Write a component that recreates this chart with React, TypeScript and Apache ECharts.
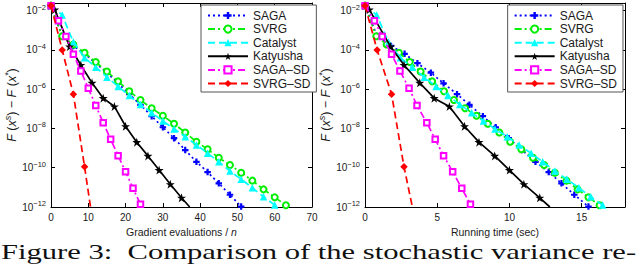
import { useEffect, useRef } from 'react';
import * as echarts from 'echarts';

// ---- data ----
const sagaEvals = [0, 3, 6, 9, 12, 15, 18, 21, 24, 27, 30, 33, 36, 39, 42, 45, 48, 51];
const sagaTime = [0, 0.84, 1.8, 2.74, 3.63, 4.56, 5.44, 6.37, 7.23, 8.16, 9.05, 9.95, 10.87, 11.8, 12.72, 13.6, 14.49, 15.47];
const sagaGap = [1.8e-2, 5.1e-4, 1.6e-4, 6.3e-5, 2.1e-5, 6.9e-6, 2.0e-6, 5.6e-7, 1.6e-7, 4.2e-8, 1.15e-8, 3.2e-9, 7.9e-10, 2.0e-10, 6.0e-11, 1.6e-11, 4.2e-12, 1.05e-12];

const svrgEvals = [0, 3, 6, 9, 12, 15, 18, 21, 24, 27, 30, 33, 36, 39, 42, 45, 48, 51, 54, 57, 60, 63];
const svrgTime = [0, 0.78, 1.5, 2.35, 3.1, 3.85, 4.65, 5.47, 6.16, 6.93, 7.72, 8.5, 9.3, 10.05, 10.82, 11.63, 12.4, 13.14, 13.95, 14.72, 15.47, 16.24];
const svrgGap = [1.8e-2, 5.0e-4, 1.9e-4, 7.2e-5, 2.4e-5, 7.9e-6, 2.5e-6, 7.9e-7, 2.8e-7, 1.07e-7, 4.4e-8, 1.74e-8, 6.2e-9, 2.1e-9, 8.7e-10, 3.2e-10, 1.38e-10, 5.6e-11, 2.2e-11, 7.9e-12, 3.1e-12, 1.23e-12];

const catEvals = [0, 3, 6, 9, 12, 15, 18, 21, 24, 27, 30, 33, 36, 39, 42, 45, 48, 51, 54, 57, 60];
const catTime = [0, 0.81, 1.63, 2.45, 3.27, 4.1, 4.92, 5.74, 6.56, 7.38, 8.2, 9.0, 9.85, 10.67, 11.5, 12.3, 13.15, 13.98, 14.8, 15.63, 16.45];
const catGap = [1.8e-2, 6.0e-3, 2.5e-4, 4.0e-5, 1.32e-5, 4.1e-6, 1.38e-6, 4.7e-7, 1.66e-7, 6.3e-8, 2.4e-8, 9.5e-9, 3.8e-9, 1.45e-9, 5.5e-10, 2.0e-10, 6.8e-11, 2.6e-11, 9.5e-12, 3.3e-12, 1.26e-12];

const katEvals = [0, 1, 5, 8, 11, 14, 17, 20, 23, 26, 29, 32, 35, 37.2];
const katTime = [0, 0.3, 1.77, 2.7, 3.79, 4.79, 5.84, 6.89, 7.89, 8.98, 10.0, 11.0, 12.1, 12.8];
const katGap = [1.8e-2, 1.12e-2, 1.48e-4, 1.7e-5, 2.1e-6, 3.5e-7, 1.32e-7, 1.29e-8, 2.0e-9, 4.0e-10, 7.6e-11, 1.45e-11, 2.95e-12, 1.0e-12];

const sagaSdEvals = [0, 2, 4, 6, 8, 10, 12, 14, 16, 18, 20, 22, 24, 24.4];
const sagaSdTime = [0, 0.65, 1.19, 1.84, 2.42, 3.05, 3.6, 4.28, 4.86, 5.44, 6.07, 6.7, 7.3, 7.38];
const sagaSdGap = [1.8e-2, 3.1e-3, 4.8e-4, 6.0e-5, 8.5e-6, 1.12e-6, 1.48e-7, 1.95e-8, 2.8e-9, 4.1e-10, 6.3e-11, 8.9e-12, 1.38e-12, 1.0e-12];

const svrgSdEvals = [0, 3, 6, 9, 10.6];
const svrgSdTime = [0, 0.84, 1.84, 2.7, 3.28];
const svrgSdGap = [1.8e-2, 1.0e-4, 5.6e-7, 1.12e-10, 1.0e-12];

const names = ['SAGA', 'SVRG', 'Catalyst', 'Katyusha', 'SAGA\u2013SD', 'SVRG\u2013SD'];
const evalTicks = { min: 0, max: 70, interval: 10 };
const timeTicks = { min: 0, max: 18, interval: 5 };
const gapMin = 1e-12;
const gapMax = 0.0245;
const caption = 'Figure 3:  Comparison of the stochastic variance re-';

const PLUS = 'path://M3.3,0H6.7V3.3H10V6.7H6.7V10H3.3V6.7H0V3.3H3.3Z';
const STAR = 'path://M50,0L61.8,35.4L99,35.4L69,57.3L80.9,92.7L50,70.8L19.1,92.7L31,57.3L1,35.4L38.2,35.4Z';

type Style = { color: string; symbol: string; size: number; dash: any; empty?: boolean };
const styles: Style[] = [
  { color: '#0000ff', symbol: PLUS, size: 6.5, dash: [2, 3] },
  { color: '#00ee00', symbol: 'emptyCircle', size: 6, dash: [7, 3, 2, 3], empty: true },
  { color: '#00ffff', symbol: 'triangle', size: 7.5, dash: [7, 4] },
  { color: '#000000', symbol: STAR, size: 9, dash: 'solid' },
  { color: '#ff00ff', symbol: 'emptyRect', size: 5.5, dash: [7, 3, 2, 3], empty: true },
  { color: '#ff0000', symbol: 'diamond', size: 7.5, dash: [7, 4] },
];

function mkSeries(idx: number, xs: number[], ys: number[], grid: number, lastBare: boolean) {
  const s = styles[idx];
  return {
    type: 'line',
    name: names[idx],
    xAxisIndex: grid * 2,
    yAxisIndex: grid * 2,
    data: xs.map((x, i) =>
      lastBare && i === xs.length - 1 ? { value: [x, ys[i]], symbol: 'none' } : [x, ys[i]]
    ),
    symbol: s.symbol,
    symbolSize: s.size,
    showAllSymbol: true,
    clip: true,
    lineStyle: { color: s.color, width: 1.7, type: s.dash },
    itemStyle: { color: s.color, borderColor: s.color, borderWidth: s.empty ? 1.4 : 0 },
    emphasis: { disabled: true },
    z: 2 + idx,
  };
}

const font = 'Liberation Sans';
const txt = '#1a1a1a';

function yLabel(v: number) {
  const e = Math.log10(v);
  const r = Math.round(e);
  if (Math.abs(e - r) > 1e-6) return '';
  return `{b|10}{s|${r < 0 ? '\u2212' + -r : r}}`;
}

const yRich = {
  b: { fontSize: 10, color: txt, fontFamily: font },
  s: { fontSize: 7.5, color: txt, fontFamily: font, padding: [0, 0, 7, 0] },
};

function xAxes(grid: number, ticks: any, name: string) {
  const common = {
    type: 'value',
    gridIndex: grid,
    min: ticks.min,
    max: ticks.max,
    interval: ticks.interval,
    axisLine: { show: true, onZero: false, lineStyle: { color: '#000', width: 1 } },
    axisTick: { show: true, inside: true, length: 4, lineStyle: { color: '#000' } },
    splitLine: { show: false },
  };
  return [
    {
      ...common,
      position: 'bottom',
      name,
      nameLocation: 'middle',
      nameGap: 17,
      nameTextStyle: {
        fontSize: 10.5,
        color: txt,
        fontFamily: font,
        rich: { i: { fontStyle: 'italic', fontSize: 10.5, color: txt, fontFamily: font } },
      },
      axisLabel: {
        fontSize: 10,
        color: txt,
        fontFamily: font,
        margin: 5,
        formatter: (v: number) => (Math.abs(v / ticks.interval - Math.round(v / ticks.interval)) < 1e-9 ? String(v) : ''),
      },
    },
    { ...common, position: 'top', axisLabel: { show: false } },
  ];
}

function yAxes(grid: number, gap: number) {
  const common = {
    type: 'log',
    logBase: 10,
    gridIndex: grid,
    min: gapMin,
    max: gapMax,
    interval: 2,
    axisLine: { show: true, onZero: false, lineStyle: { color: '#000', width: 1 } },
    axisTick: { show: true, inside: true, length: 4, lineStyle: { color: '#000' } },
    splitLine: { show: false },
    minorTick: { show: false },
  };
  return [
    {
      ...common,
      position: 'left',
      name: '{i|F} ({i|x}{sup|s}) \u2212 {i|F} ({i|x}{sup|*})',
      nameLocation: 'middle',
      nameGap: gap,
      nameTextStyle: {
        fontSize: 12.5,
        color: txt,
        fontFamily: font,
        rich: {
          i: { fontStyle: 'italic', fontSize: 12.5, color: txt, fontFamily: font },
          sup: { fontStyle: 'italic', fontSize: 9, color: txt, fontFamily: font, padding: [0, 0, 8, 0] },
        },
      },
      axisLabel: { margin: 5, formatter: yLabel, rich: yRich },
    },
    { ...common, position: 'right', axisLabel: { show: false } },
  ];
}

function legend(pos: any) {
  return {
    ...pos,
    top: 5,
    orient: 'vertical',
    data: names,
    itemWidth: 40,
    itemHeight: 9,
    itemGap: 0.6,
    padding: [4, 6, 2, 6],
    backgroundColor: '#fff',
    borderColor: '#555',
    borderWidth: 1,
    borderRadius: 0,
    selectedMode: false,
    textStyle: { fontSize: 12, lineHeight: 13, color: txt, fontFamily: font },
  };
}

export default function App() {
  const ref = useRef<HTMLDivElement>(null);
  useEffect(() => {
    if (!ref.current) return;
    const chart = echarts.init(ref.current, undefined, { renderer: 'svg' });
    const series = [
      mkSeries(0, sagaEvals, sagaGap, 0, false),
      mkSeries(1, svrgEvals, svrgGap, 0, false),
      mkSeries(2, catEvals, catGap, 0, false),
      mkSeries(3, katEvals, katGap, 0, true),
      mkSeries(4, sagaSdEvals, sagaSdGap, 0, true),
      mkSeries(5, svrgSdEvals, svrgSdGap, 0, true),
      mkSeries(0, sagaTime, sagaGap, 1, false),
      mkSeries(1, svrgTime, svrgGap, 1, false),
      mkSeries(2, catTime, catGap, 1, false),
      mkSeries(3, katTime, katGap, 1, true),
      mkSeries(4, sagaSdTime, sagaSdGap, 1, true),
      mkSeries(5, svrgSdTime, svrgSdGap, 1, true),
    ];
    chart.setOption({
      animation: false,
      backgroundColor: '#fff',
      textStyle: { fontFamily: font },
      grid: [
        { left: 51, top: 3, width: 261, height: 204 },
        { left: 365, top: 3, width: 260, height: 204 },
      ],
      xAxis: [
        ...xAxes(0, evalTicks, 'Gradient evaluations / {i|n}'),
        ...xAxes(1, timeTicks, 'Running time (sec)'),
      ],
      yAxis: [...yAxes(0, 28), ...yAxes(1, 25)],
      legend: [legend({ left: 201 }), legend({ right: 17 })],
      series,
      graphic: [
        {
          type: 'text',
          x: 1,
          y: 252,
          scaleX: 1.53,
          silent: true,
          style: {
            text: caption,
            fontSize: 20,
            fontFamily: 'Liberation Serif',
            fill: '#111',
            verticalAlign: 'middle',
          },
        },
      ],
    });
    return () => chart.dispose();
  }, []);
  return (
    <div
      ref={ref}
      style={{ position: 'fixed', left: 0, top: 0, width: 640, height: 270, background: '#fff' }}
    />
  );
}
